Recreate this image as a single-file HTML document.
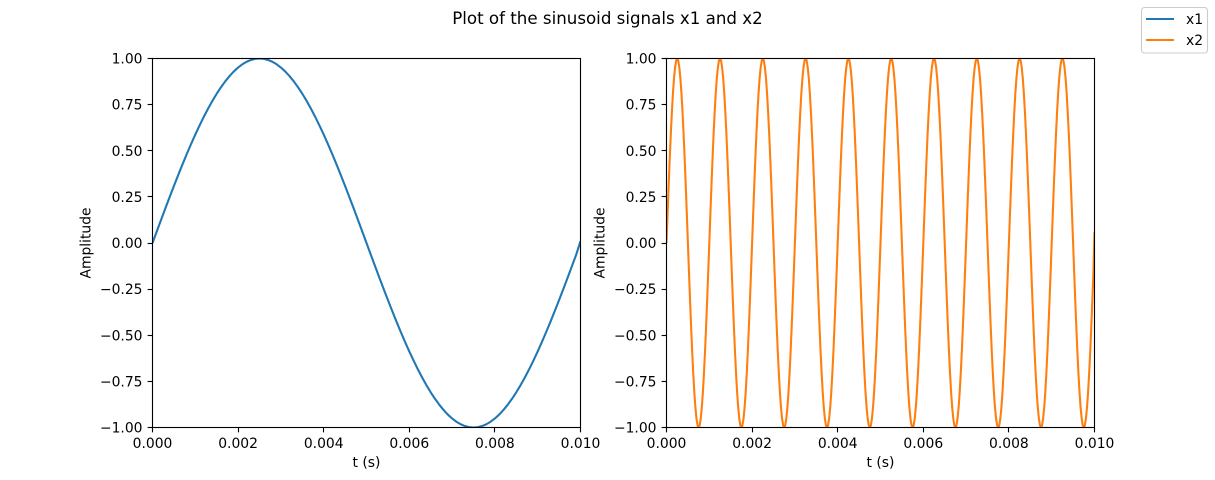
<!DOCTYPE html>
<html lang="en">
<head>
<meta charset="utf-8">
<title>Plot of the sinusoid signals x1 and x2</title>
<style>
html,body{margin:0;padding:0;background:#fff;width:1215px;height:480px;overflow:hidden}
svg{display:block}
text{font-family:"DejaVu Sans",sans-serif;fill:#000}
</style>
</head>
<body>
<svg id="chart" width="1215" height="480" viewBox="0 0 1215 480" xmlns="http://www.w3.org/2000/svg">
  <defs>
    <clipPath id="clip-left"><rect x="152.5" y="58.5" width="428" height="369"></rect></clipPath>
    <clipPath id="clip-right"><rect x="666.5" y="58.5" width="428" height="369"></rect></clipPath>
  </defs>
  <text x="607.5" y="24" font-size="16.67" text-anchor="middle">Plot of the sinusoid signals x1 and x2</text>
  <g id="panel-left"></g>
  <g id="panel-right"></g>
  <g>
    <rect x="1141.5" y="7.5" width="66" height="45.5" rx="3" ry="3" fill="#fff" stroke="#ccc" stroke-width="1.1"></rect>
    <line x1="1146" y1="19" x2="1174" y2="19" stroke="#1f77b4" stroke-width="2.08"></line>
    <text x="1186" y="24" font-size="13.89">x1</text>
    <line x1="1146" y1="40" x2="1174" y2="40" stroke="#ff7f0e" stroke-width="2.08"></line>
    <text x="1186" y="45" font-size="13.89">x2</text>
  </g>
</svg>
<script>
const xTickValues = [0, 0.002, 0.004, 0.006, 0.008, 0.01];
const xTickLabels = ["0.000", "0.002", "0.004", "0.006", "0.008", "0.010"];
const yTickValues = [1, 0.75, 0.5, 0.25, 0, -0.25, -0.5, -0.75, -1];
const yTickLabels = ["1.00", "0.75", "0.50", "0.25", "0.00", "\u22120.25", "\u22120.50", "\u22120.75", "\u22121.00"];

const x1Time = [
0,.0001,.0002,.0003,.0004,.0005,.0006,.0007,.0008,.0009,
.001,.0011,.0012,.0013,.0014,.0015,.0016,.0017,.0018,.0019,
.002,.0021,.0022,.0023,.0024,.0025,.0026,.0027,.0028,.0029,
.003,.0031,.0032,.0033,.0034,.0035,.0036,.0037,.0038,.0039,
.004,.0041,.0042,.0043,.0044,.0045,.0046,.0047,.0048,.0049,
.005,.0051,.0052,.0053,.0054,.0055,.0056,.0057,.0058,.0059,
.006,.0061,.0062,.0063,.0064,.0065,.0066,.0067,.0068,.0069,
.007,.0071,.0072,.0073,.0074,.0075,.0076,.0077,.0078,.0079,
.008,.0081,.0082,.0083,.0084,.0085,.0086,.0087,.0088,.0089,
.009,.0091,.0092,.0093,.0094,.0095,.0096,.0097,.0098,.0099,
.01];
const x1Values = [
0,.0628,.1253,.1874,.2487,.309,.3681,.4258,.4818,.5358,
.5878,.6374,.6845,.729,.7705,.809,.8443,.8763,.9048,.9298,
.9511,.9686,.9823,.9921,.998,1,.998,.9921,.9823,.9686,
.9511,.9298,.9048,.8763,.8443,.809,.7705,.729,.6845,.6374,
.5878,.5358,.4818,.4258,.3681,.309,.2487,.1874,.1253,.0628,
0,-.0628,-.1253,-.1874,-.2487,-.309,-.3681,-.4258,-.4818,-.5358,
-.5878,-.6374,-.6845,-.729,-.7705,-.809,-.8443,-.8763,-.9048,-.9298,
-.9511,-.9686,-.9823,-.9921,-.998,-1,-.998,-.9921,-.9823,-.9686,
-.9511,-.9298,-.9048,-.8763,-.8443,-.809,-.7705,-.729,-.6845,-.6374,
-.5878,-.5358,-.4818,-.4258,-.3681,-.309,-.2487,-.1874,-.1253,-.0628,
.01];

const x2TimeMicroseconds = [
0,25,50,75,100,125,150,175,200,225,250,275,300,325,350,375,400,425,450,475,500,525,550,575,600,625,650,675,700,725,750,775,800,825,850,875,900,925,950,975,
1000,1025,1050,1075,1100,1125,1150,1175,1200,1225,1250,1275,1300,1325,1350,1375,1400,1425,1450,1475,1500,1525,1550,1575,1600,1625,1650,1675,1700,1725,1750,1775,1800,1825,1850,1875,1900,1925,1950,1975,
2000,2025,2050,2075,2100,2125,2150,2175,2200,2225,2250,2275,2300,2325,2350,2375,2400,2425,2450,2475,2500,2525,2550,2575,2600,2625,2650,2675,2700,2725,2750,2775,2800,2825,2850,2875,2900,2925,2950,2975,
3000,3025,3050,3075,3100,3125,3150,3175,3200,3225,3250,3275,3300,3325,3350,3375,3400,3425,3450,3475,3500,3525,3550,3575,3600,3625,3650,3675,3700,3725,3750,3775,3800,3825,3850,3875,3900,3925,3950,3975,
4000,4025,4050,4075,4100,4125,4150,4175,4200,4225,4250,4275,4300,4325,4350,4375,4400,4425,4450,4475,4500,4525,4550,4575,4600,4625,4650,4675,4700,4725,4750,4775,4800,4825,4850,4875,4900,4925,4950,4975,
5000,5025,5050,5075,5100,5125,5150,5175,5200,5225,5250,5275,5300,5325,5350,5375,5400,5425,5450,5475,5500,5525,5550,5575,5600,5625,5650,5675,5700,5725,5750,5775,5800,5825,5850,5875,5900,5925,5950,5975,
6000,6025,6050,6075,6100,6125,6150,6175,6200,6225,6250,6275,6300,6325,6350,6375,6400,6425,6450,6475,6500,6525,6550,6575,6600,6625,6650,6675,6700,6725,6750,6775,6800,6825,6850,6875,6900,6925,6950,6975,
7000,7025,7050,7075,7100,7125,7150,7175,7200,7225,7250,7275,7300,7325,7350,7375,7400,7425,7450,7475,7500,7525,7550,7575,7600,7625,7650,7675,7700,7725,7750,7775,7800,7825,7850,7875,7900,7925,7950,7975,
8000,8025,8050,8075,8100,8125,8150,8175,8200,8225,8250,8275,8300,8325,8350,8375,8400,8425,8450,8475,8500,8525,8550,8575,8600,8625,8650,8675,8700,8725,8750,8775,8800,8825,8850,8875,8900,8925,8950,8975,
9000,9025,9050,9075,9100,9125,9150,9175,9200,9225,9250,9275,9300,9325,9350,9375,9400,9425,9450,9475,9500,9525,9550,9575,9600,9625,9650,9675,9700,9725,9750,9775,9800,9825,9850,9875,9900,9925,9950,9975,
10000];
const x2Values = [
0,.156,.309,.454,.588,.707,.809,.891,.951,.988,1,.988,.951,.891,.809,.707,.588,.454,.309,.156,0,-.156,-.309,-.454,-.588,-.707,-.809,-.891,-.951,-.988,-1,-.988,-.951,-.891,-.809,-.707,-.588,-.454,-.309,-.156,
0,.156,.309,.454,.588,.707,.809,.891,.951,.988,1,.988,.951,.891,.809,.707,.588,.454,.309,.156,0,-.156,-.309,-.454,-.588,-.707,-.809,-.891,-.951,-.988,-1,-.988,-.951,-.891,-.809,-.707,-.588,-.454,-.309,-.156,
0,.156,.309,.454,.588,.707,.809,.891,.951,.988,1,.988,.951,.891,.809,.707,.588,.454,.309,.156,0,-.156,-.309,-.454,-.588,-.707,-.809,-.891,-.951,-.988,-1,-.988,-.951,-.891,-.809,-.707,-.588,-.454,-.309,-.156,
0,.156,.309,.454,.588,.707,.809,.891,.951,.988,1,.988,.951,.891,.809,.707,.588,.454,.309,.156,0,-.156,-.309,-.454,-.588,-.707,-.809,-.891,-.951,-.988,-1,-.988,-.951,-.891,-.809,-.707,-.588,-.454,-.309,-.156,
0,.156,.309,.454,.588,.707,.809,.891,.951,.988,1,.988,.951,.891,.809,.707,.588,.454,.309,.156,0,-.156,-.309,-.454,-.588,-.707,-.809,-.891,-.951,-.988,-1,-.988,-.951,-.891,-.809,-.707,-.588,-.454,-.309,-.156,
0,.156,.309,.454,.588,.707,.809,.891,.951,.988,1,.988,.951,.891,.809,.707,.588,.454,.309,.156,0,-.156,-.309,-.454,-.588,-.707,-.809,-.891,-.951,-.988,-1,-.988,-.951,-.891,-.809,-.707,-.588,-.454,-.309,-.156,
0,.156,.309,.454,.588,.707,.809,.891,.951,.988,1,.988,.951,.891,.809,.707,.588,.454,.309,.156,0,-.156,-.309,-.454,-.588,-.707,-.809,-.891,-.951,-.988,-1,-.988,-.951,-.891,-.809,-.707,-.588,-.454,-.309,-.156,
0,.156,.309,.454,.588,.707,.809,.891,.951,.988,1,.988,.951,.891,.809,.707,.588,.454,.309,.156,0,-.156,-.309,-.454,-.588,-.707,-.809,-.891,-.951,-.988,-1,-.988,-.951,-.891,-.809,-.707,-.588,-.454,-.309,-.156,
0,.156,.309,.454,.588,.707,.809,.891,.951,.988,1,.988,.951,.891,.809,.707,.588,.454,.309,.156,0,-.156,-.309,-.454,-.588,-.707,-.809,-.891,-.951,-.988,-1,-.988,-.951,-.891,-.809,-.707,-.588,-.454,-.309,-.156,
0,.156,.309,.454,.588,.707,.809,.891,.951,.988,1,.988,.951,.891,.809,.707,.588,.454,.309,.156,0,-.156,-.309,-.454,-.588,-.707,-.809,-.891,-.951,-.988,-1,-.988,-.951,-.891,-.809,-.707,-.588,-.454,-.309,-.156,
.06];

const SVG_NS = "http://www.w3.org/2000/svg";
const plotTop = 58.5, plotBottom = 427.5, plotWidth = 428;

function yScale(v) {
  return plotBottom + (v + 1) / 2 * (plotTop - plotBottom);
}
function xScale(t, left) {
  return left + t / 0.01 * plotWidth;
}
function make(tag, attrs, parent) {
  const el = document.createElementNS(SVG_NS, tag);
  for (const k in attrs) el.setAttribute(k, attrs[k]);
  parent.appendChild(el);
  return el;
}

function drawPanel(parent, left, clipId, times, values, color, seriesName) {
  const right = left + plotWidth;

  const curve = make("polyline", {
    points: times.map((t, i) => xScale(t, left).toFixed(2) + "," + yScale(values[i]).toFixed(2)).join(" "),
    fill: "none", stroke: color, "stroke-width": 2.08, "stroke-linejoin": "round",
    "clip-path": "url(#" + clipId + ")"
  }, parent);
  
  

  const frame = make("rect", {
    x: left, y: plotTop, width: plotWidth, height: plotBottom - plotTop,
    fill: "none", stroke: "#000", "stroke-width": 1.11
  }, parent);
  
  

  xTickValues.forEach((v, i) => {
    const x = Math.round(xScale(v, left) - 0.5) + 0.5;
    const tick = make("line", { x1: x, x2: x, y1: plotBottom, y2: plotBottom + 4.86, stroke: "#000", "stroke-width": 1.11 }, parent);
    
    
    const label = make("text", { x: xScale(v, left), y: 448, "font-size": 13.89, "text-anchor": "middle" }, parent);
    label.textContent = xTickLabels[i];
    
    
  });

  yTickValues.forEach((v, i) => {
    const y = Math.round(yScale(v) - 0.5) + 0.5;
    const tick = make("line", { x1: left - 4.86, x2: left, y1: y, y2: y, stroke: "#000", "stroke-width": 1.11 }, parent);
    
    
    const label = make("text", { x: left - 10, y: yScale(v) + 5, "font-size": 13.89, "text-anchor": "end" }, parent);
    label.textContent = yTickLabels[i];
    
    
  });

  const xTitle = make("text", { x: (left + right) / 2, y: 467, "font-size": 13.89, "text-anchor": "middle" }, parent);
  xTitle.textContent = "t (s)";
  
  

  const yTitle = make("text", {
    x: 0, y: 0, "font-size": 13.89, "text-anchor": "middle",
    transform: "translate(" + (left - 62) + " 243) rotate(-90)"
  }, parent);
  yTitle.textContent = "Amplitude";
  
  
}

drawPanel(document.getElementById("panel-left"), 152.5, "clip-left", x1Time, x1Values, "#1f77b4", "x1");
drawPanel(document.getElementById("panel-right"), 666.5, "clip-right", x2TimeMicroseconds.map(us => us / 1000000), x2Values, "#ff7f0e", "x2");
</script>
</body>
</html>
